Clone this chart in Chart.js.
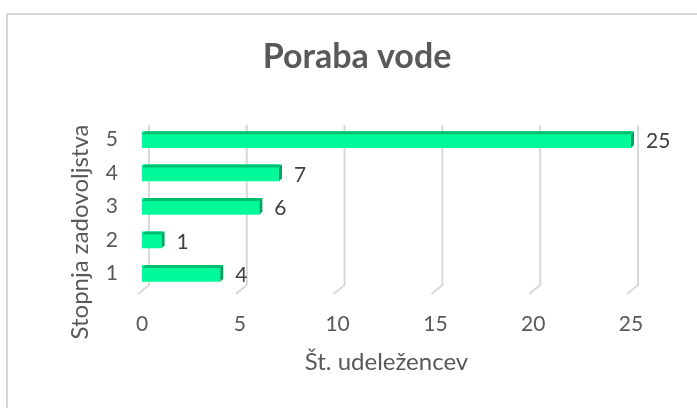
<!DOCTYPE html>
<html>
<head>
<meta charset="utf-8">
<title>Poraba vode</title>
<script src="https://cdn.jsdelivr.net/npm/chart.js@4.4.0/dist/chart.umd.min.js"></script>
<style>
  html, body { margin: 0; padding: 0; background: #fff; overflow: hidden; }
  #wrap { position: relative; width: 697px; height: 408px; }
  #frame { position: absolute; left: 6px; top: 13px; width: 720px; height: 420px;
           border-top: 2px solid #d9d9d9; border-left: 2px solid #d9d9d9; pointer-events: none; }
</style>
</head>
<body>
<div id="wrap">
  <canvas id="myChart" width="697" height="408"></canvas>
  <div id="frame"></div>
</div>
<script>
// data
const categories = ['1', '2', '3', '4', '5'];
const values = [4, 1, 6, 7, 25];
const xTicks = [0, 5, 10, 15, 20, 25];
const chartTitle = 'Poraba vode';
const xTitle = 'Št. udeležencev';
const yTitle = 'Stopnja zadovoljstva';

Chart.defaults.font.family = 'Lato, "Open Sans", sans-serif';
Chart.defaults.color = '#595959';

// excel-like 3d look: back wall grid, bar top/side faces, value labels
const excel3d = {
  id: 'excel3d',
  beforeDatasetsDraw(chart) {
    const {ctx, chartArea, scales: {x}} = chart;
    ctx.save();
    ctx.strokeStyle = '#d9d9d9';
    ctx.lineWidth = 2;
    x.ticks.forEach(t => {
      const px = x.getPixelForValue(t.value);
      ctx.beginPath();
      ctx.moveTo(px + 7, chartArea.top + 2);
      ctx.lineTo(px + 7, chartArea.bottom - 5);
      ctx.lineTo(px - 4, chartArea.bottom + 4);
      ctx.stroke();
    });
    ctx.restore();
  },
  afterDatasetsDraw(chart) {
    const {ctx} = chart;
    const meta = chart.getDatasetMeta(0);
    const d = 3;
    ctx.save();
    meta.data.forEach((bar, i) => {
      const {x, y, base, height} = bar.getProps(['x', 'y', 'base', 'height'], true);
      const top = y - height / 2, bottom = y + height / 2;
      ctx.fillStyle = '#00c070';
      ctx.beginPath();
      ctx.moveTo(base, top + d); ctx.lineTo(base + d, top);
      ctx.lineTo(x + d, top); ctx.lineTo(x, top + d);
      ctx.closePath(); ctx.fill();
      ctx.fillStyle = '#00a062';
      ctx.beginPath();
      ctx.moveTo(x, top + d); ctx.lineTo(x + d, top);
      ctx.lineTo(x + d, bottom - d); ctx.lineTo(x, bottom);
      ctx.closePath(); ctx.fill();
      ctx.fillStyle = '#404040';
      ctx.font = '21px Lato';
      ctx.textBaseline = 'middle';
      ctx.textAlign = 'left';
      ctx.fillText(String(values[i]), x + d + 12, y + 2);
    });
    ctx.restore();
  },
  afterDraw(chart) {
    const {ctx} = chart;
    ctx.save();
    ctx.translate(80, 232);
    ctx.rotate(-Math.PI / 2);
    ctx.font = '24px Lato';
    ctx.fillStyle = '#595959';
    ctx.textAlign = 'center';
    ctx.textBaseline = 'middle';
    ctx.fillText(yTitle, 0, 0);
    ctx.restore();
  }
};

new Chart(document.getElementById('myChart'), {
  type: 'bar',
  data: {
    labels: categories,
    datasets: [{
      data: values,
      backgroundColor: '#00fa9a',
      borderWidth: 0,
      barPercentage: 0.5,
      categoryPercentage: 1
    }]
  },
  options: {
    indexAxis: 'y',
    responsive: false,
    animation: false,
    layout: { padding: { left: 17, right: 0, top: 0, bottom: 0 } },
    plugins: {
      legend: { display: false },
      tooltip: { enabled: false },
      title: {
        display: true,
        text: chartTitle,
        color: '#595959',
        font: { size: 34, weight: 'bold' },
        padding: { top: 37, bottom: 45 }
      }
    },
    scales: {
      x: {
        min: 0,
        max: 25,
        afterBuildTicks: s => { s.ticks = xTicks.map(v => ({ value: v })); },
        afterFit: s => { s.height = 118; },
        grid: { display: false, drawTicks: false },
        border: { display: false },
        ticks: { font: { size: 21 }, color: '#595959', padding: 22 },
        title: {
          display: true,
          text: xTitle,
          color: '#595959',
          font: { size: 24 },
          padding: { top: 0, bottom: 31 }
        }
      },
      y: {
        reverse: true,
        afterFit: s => { s.width = 125; },
        grid: { display: false, drawTicks: false },
        border: { display: false },
        ticks: { font: { size: 21 }, color: '#595959', padding: 24 }
      },
      // empty right-hand strip, keeps room for the value labels
      yRight: {
        type: 'category',
        labels: categories,
        position: 'right',
        afterFit: s => { s.width = 66; },
        grid: { display: false, drawTicks: false },
        border: { display: false },
        ticks: { display: false }
      }
    }
  },
  plugins: [excel3d]
});
</script>
</body>
</html>
